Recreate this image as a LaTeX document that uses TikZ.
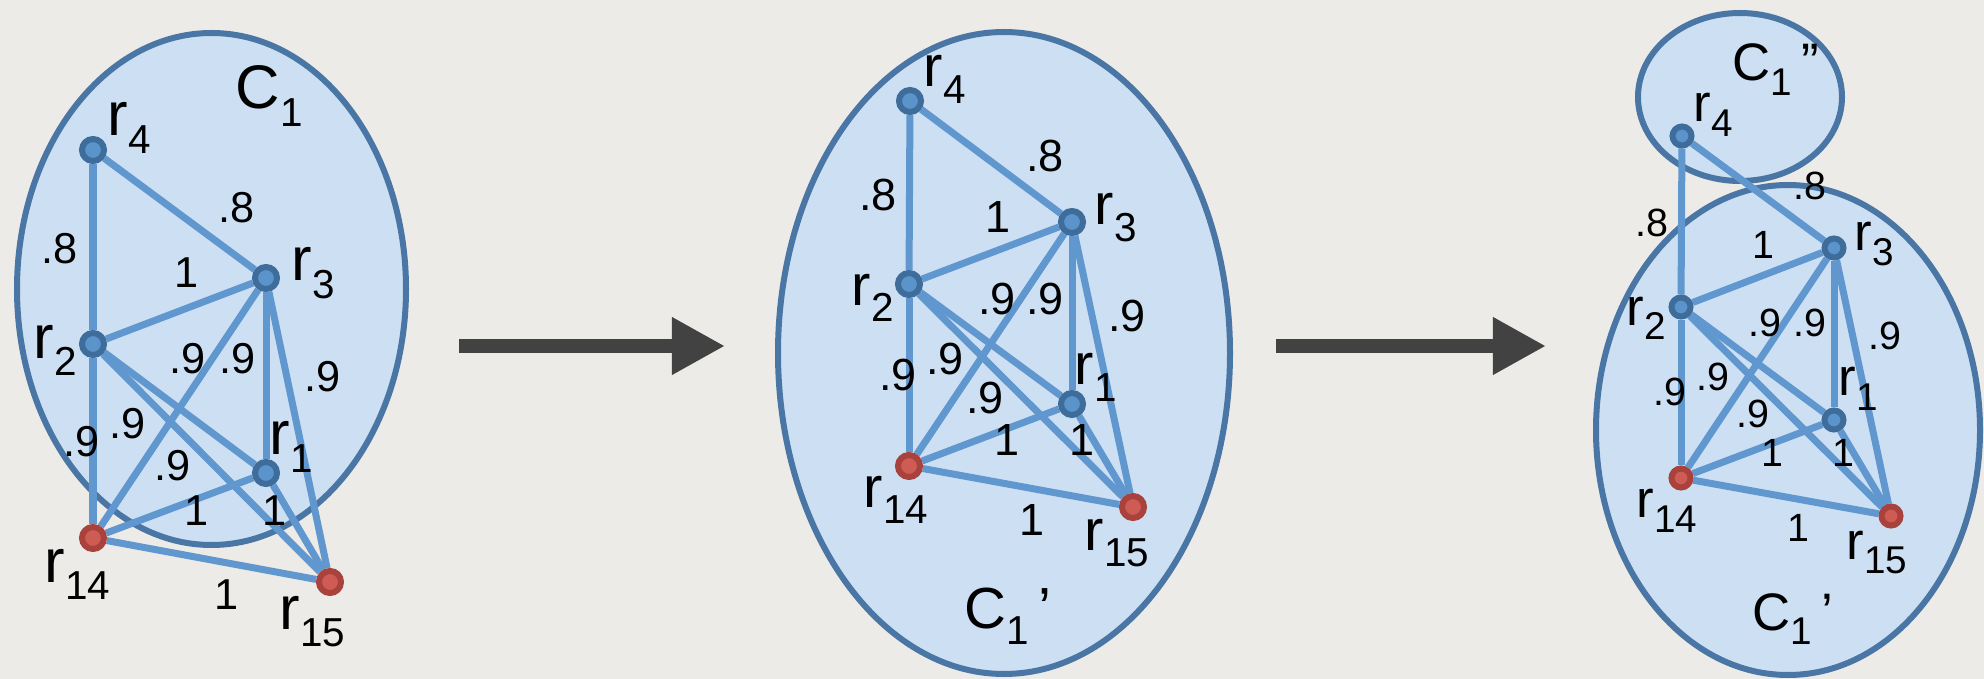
\documentclass[tikz,border=0pt]{standalone}
\usepackage{fontspec}
\setmainfont{Liberation Sans}
\usetikzlibrary{arrows.meta}

\definecolor{paper}{HTML}{EDEBE7}
\definecolor{clfill}{HTML}{CDE0F3}
\definecolor{clline}{HTML}{4A76A6}
\definecolor{edgeblue}{HTML}{6097CF}
\definecolor{nodeblue}{HTML}{5B93CB}
\definecolor{nodering}{HTML}{3E6D9C}
\definecolor{nodered}{HTML}{CF5B55}
\definecolor{redring}{HTML}{A9423D}
\definecolor{arrowgray}{HTML}{424242}

\pgfdeclarelayer{back}
\pgfdeclarelayer{mid}
\pgfsetlayers{back,mid,main}

% font sizes, reset inside each panel
\newcommand\bigsz{17.5}
\newcommand\subsz{11.5}
\newcommand\wsz{12.3}
\newcommand\sub[1]{\raisebox{-0.28em}{\fontsize{\subsz}{\subsz}\selectfont #1}}

\begin{document}
\begin{tikzpicture}[
  x=0.01cm, y=-0.01cm,
  cluster/.style={fill=clfill, draw=clline, line width=0.06cm},
  edge/.style={draw=edgeblue, line width=0.07cm},
  vtx/.style={circle, fill=nodeblue, draw=nodering, line width=0.06cm,
    minimum size=0.22cm, inner sep=0pt},
  seed/.style={vtx, fill=nodered, draw=redring},
  lbl/.style={anchor=base west, inner sep=0pt,
    font=\fontsize{\bigsz}{\bigsz}\selectfont},
  wt/.style={inner sep=0pt, font=\fontsize{\wsz}{\wsz}\selectfont},
  flow/.style={draw=arrowgray, line width=0.13cm,
    -{Triangle[length=0.53cm,width=0.54cm]}}
]
\begin{pgfonlayer}{back}
  \fill[paper] (0,0) rectangle (1984,679);
\end{pgfonlayer}
\useasboundingbox (0,0) rectangle (1984,679);

% panel 1: C_1
\begin{pgfonlayer}{back}
  \path[cluster] (211.5,289) ellipse [x radius=194.5, y radius=256];
\end{pgfonlayer}
\node[vtx]  (a4)  at (93,150)  {};
\node[vtx]  (a3)  at (266,278) {};
\node[vtx]  (a2)  at (93,344)  {};
\node[vtx]  (a1)  at (266,473) {};
\node[seed] (a14) at (93,538)  {};
\node[seed] (a15) at (330,582) {};
\node[lbl] (la4)  at (107,136) {r\sub{4}};
\node[lbl] (lc)   at (235,109) {C\sub{1}};
\node[lbl] (la3)  at (291,281) {r\sub{3}};
\node[lbl] (la2)  at (33,358)  {r\sub{2}};
\node[lbl] (la1)  at (269,455) {r\sub{1}};
\node[lbl] (la14) at (44,582)  {r\sub{14}};
\node[lbl] (la15) at (279,629) {r\sub{15}};
\foreach \k/\x/\y/\t in {1/60/249/.8, 2/237/208/.8, 3/187/273/1,
    4/188/359/.9, 5/238/359/.9, 6/323/377/.9, 7/82/442/.9,
    8/128/424/.9, 9/173/466/.9, 10/197/511/1, 11/275/511/1,
    12/227/595/1}
  \node[wt] (wa\k) at (\x,\y) {\t};

% panel 2: C_1'
\begin{scope}
\renewcommand\bigsz{16.5}\renewcommand\wsz{12.8}
\begin{pgfonlayer}{back}
  \path[cluster] (1004,353) ellipse [x radius=226, y radius=321];
\end{pgfonlayer}
\node[vtx]  (b4)  at (910,101)  {};
\node[vtx]  (b3)  at (1072,222) {};
\node[vtx]  (b2)  at (909,284)  {};
\node[vtx]  (b1)  at (1072,404) {};
\node[seed] (b14) at (909,466)  {};
\node[seed] (b15) at (1133,507) {};
\node[lbl] (lb4)  at (923,87)   {r\sub{4}};
\node[lbl] (lb3)  at (1094,225) {r\sub{3}};
\node[lbl] (lb2)  at (851,305)  {r\sub{2}};
\node[lbl] (lb1)  at (1074,385) {r\sub{1}};
\node[lbl] (lb14) at (863,507)  {r\sub{14}};
\node[lbl] (lb15) at (1084,550) {r\sub{15}};
\node[lbl] (lcp)  at (964,628)  {C\sub{1}\,’};
\foreach \k/\x/\y/\t in {1/878/195/.8, 2/1045/156/.8, 3/998/217/1,
    4/997/299/.9, 5/1045/299/.9, 6/1127/316/.9, 7/898/375/.9,
    8/945/359/.9, 9/985/398/.9, 10/1007/440/1, 11/1082/440/1,
    12/1032/520/1}
  \node[wt] (wb\k) at (\x,\y) {\t};
\end{scope}

% panel 3: C_1' and C_1''
\begin{scope}[vtx/.append style={minimum size=0.19cm}]
\renewcommand\bigsz{15}\renewcommand\subsz{11}\renewcommand\wsz{11.2}
\begin{pgfonlayer}{back}
  \path[cluster] (1788,430) ellipse [x radius=192, y radius=245];
  \path[cluster] (1740,97) ellipse [x radius=102, y radius=84];
\end{pgfonlayer}
\node[vtx]  (c4)  at (1682,136) {};
\node[vtx]  (c3)  at (1834,248) {};
\node[vtx]  (c2)  at (1681,307) {};
\node[vtx]  (c1)  at (1834,420) {};
\node[seed] (c14) at (1681,478) {};
\node[seed] (c15) at (1891,516) {};
\node[lbl] (lcpp) at (1732,81)  {C\sub{1}\,”};
\node[lbl] (lc4)  at (1693,122) {r\sub{4}};
\node[lbl] (lc3)  at (1854,251) {r\sub{3}};
\node[lbl] (lc2)  at (1626,325) {r\sub{2}};
\node[lbl] (lc1)  at (1838,396) {r\sub{1}};
\node[lbl] (lc14) at (1636,518) {r\sub{14}};
\node[lbl] (lc15) at (1846,559) {r\sub{15}};
\node[lbl] (lcq)  at (1752,630) {C\sub{1}\,’};
\foreach \k/\x/\y/\t in {1/1652/223/.8, 2/1810/186/.8, 3/1763/245/1,
    4/1765/323/.9, 5/1810/323/.9, 6/1885/336/.9, 7/1670/392/.9,
    8/1713/377/.9, 9/1753/414/.9, 10/1772/453/1, 11/1843/453/1,
    12/1798/528/1}
  \node[wt] (wc\k) at (\x,\y) {\t};
\end{scope}

% same links in every panel
\begin{pgfonlayer}{mid}
\foreach \p in {a,b,c}
  \foreach \u/\v in {4/2,4/3,2/3,2/14,2/1,2/15,3/14,3/1,3/15,1/14,1/15,14/15}
    \draw[edge] (\p\u) -- (\p\v);
\end{pgfonlayer}

% refinement steps
\coordinate (s1) at (459,346);
\coordinate (t1) at (725,346);
\coordinate (s2) at (1276,346);
\coordinate (t2) at (1546,346);
\draw[flow] (s1) -- (t1);
\draw[flow] (s2) -- (t2);
\end{tikzpicture}
\end{document}
